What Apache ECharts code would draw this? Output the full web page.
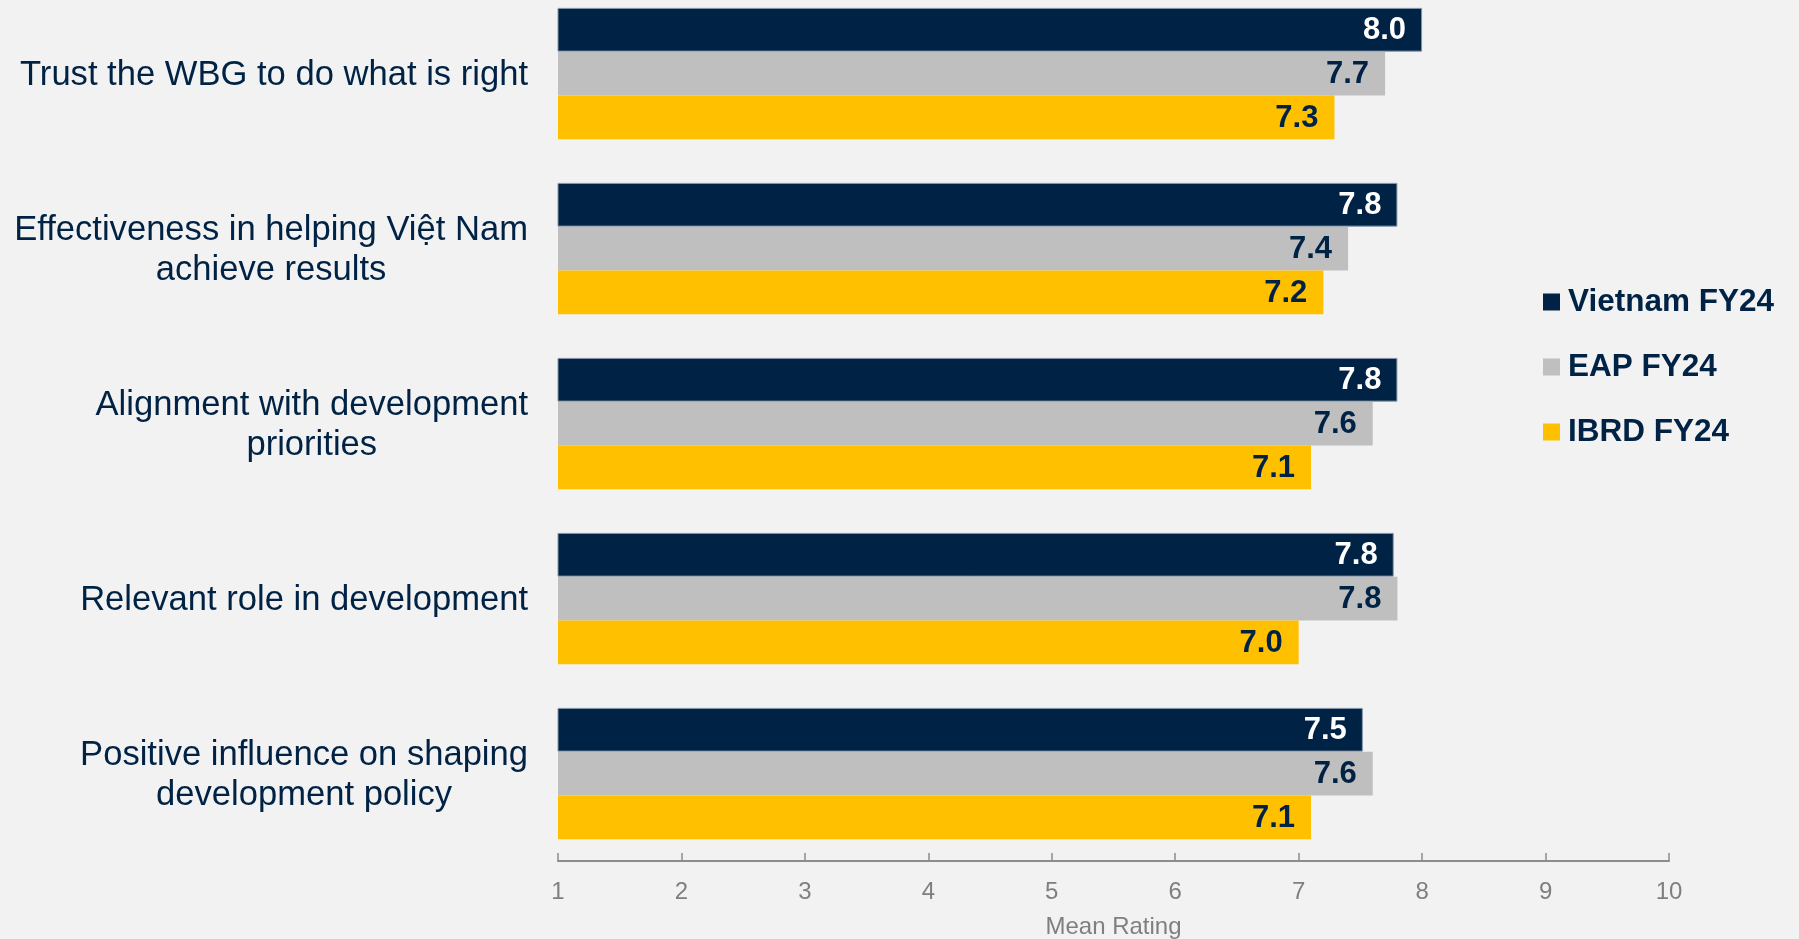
<!DOCTYPE html>
<html><head><meta charset="utf-8">
<script src="https://cdn.jsdelivr.net/npm/echarts@6/dist/echarts.min.js"></script>
<style>html,body{margin:0;padding:0;background:#F2F2F2;}#c{width:1799px;height:939px;}</style>
</head><body><div id="c"></div>
<script>
const categories = [
  "Trust the WBG to do what is right",
  "Effectiveness in helping Việt Nam\nachieve results",
  "Alignment with development\npriorities",
  "Relevant role in development",
  "Positive influence on shaping\ndevelopment policy"
];
const seriesNames = ["Vietnam FY24", "EAP FY24", "IBRD FY24"];
const vietnam = [8.0, 7.8, 7.8, 7.77, 7.52];
const eap = [7.7, 7.4, 7.6, 7.8, 7.6];
const ibrd = [7.29, 7.2, 7.1, 7.0, 7.1];
const xTicks = [1, 2, 3, 4, 5, 6, 7, 8, 9, 10];

const NAVY = '#002244', GRAY = '#BFBFBF', GOLD = '#FFC000';
const FONT = 'Liberation Sans, Arial, sans-serif';

function mkSeries(name, data, color, labelColor, border) {
  return {
    name, type: 'bar', data, barGap: '0%', barCategoryGap: '25%',
    itemStyle: { color, borderColor: border || color, borderWidth: border ? 1 : 0 },
    label: {
      show: true, position: 'insideRight', distance: 16, offset: [0, 1],
      color: labelColor, fontSize: 31, fontWeight: 'bold', fontFamily: FONT,
      formatter: p => p.value.toFixed(1)
    }
  };
}

const chart = echarts.init(document.getElementById('c'));
chart.setOption({
  backgroundColor: '#F2F2F2',
  animation: false,
  textStyle: { fontFamily: FONT },
  legend: {
    orient: 'vertical', left: 1538, top: 281,
    icon: 'rect', itemWidth: 17, itemHeight: 17, itemGap: 33,
    itemStyle: { borderWidth: 0 },
    textStyle: { color: NAVY, fontSize: 31.5, fontWeight: 'bold', fontFamily: FONT, lineHeight: 31, padding: [0, 0, 0, 3] },
    data: seriesNames
  },
  grid: { left: 558, right: 130, top: -14, height: 875, containLabel: false, outerBoundsMode: 'none' },
  xAxis: {
    type: 'value', min: 1, max: 10, interval: 1,
    name: 'Mean Rating', nameLocation: 'middle', nameGap: 54,
    nameTextStyle: { color: '#7F7F7F', fontSize: 24, fontFamily: FONT },
    axisLine: { show: true, lineStyle: { color: '#8C8C8C', width: 2 } },
    axisTick: { show: true, inside: true, length: 8, lineStyle: { color: '#8C8C8C', width: 1.5 } },
    axisLabel: { color: '#7F7F7F', fontSize: 24, margin: 19, fontFamily: FONT,
      formatter: v => xTicks.includes(v) ? String(v) : '' },
    splitLine: { show: false }
  },
  yAxis: {
    type: 'category', inverse: true, data: categories,
    axisLine: { show: false }, axisTick: { show: false },
    axisLabel: {
      margin: 30, color: NAVY, fontSize: 34.6, fontFamily: FONT, lineHeight: 40,
      formatter: v => v.split('\n').map(l => '{c|' + l + '}').join('\n'),
      rich: { c: { align: 'center', color: NAVY, fontSize: 34.6, fontFamily: FONT, lineHeight: 40, padding: [3, 0, 0, 0] } }
    }
  },
  series: [
    mkSeries(seriesNames[0], vietnam, NAVY, '#FFFFFF', '#8797AB'),
    mkSeries(seriesNames[1], eap, GRAY, NAVY),
    mkSeries(seriesNames[2], ibrd, GOLD, NAVY)
  ]
});
</script></body></html>
